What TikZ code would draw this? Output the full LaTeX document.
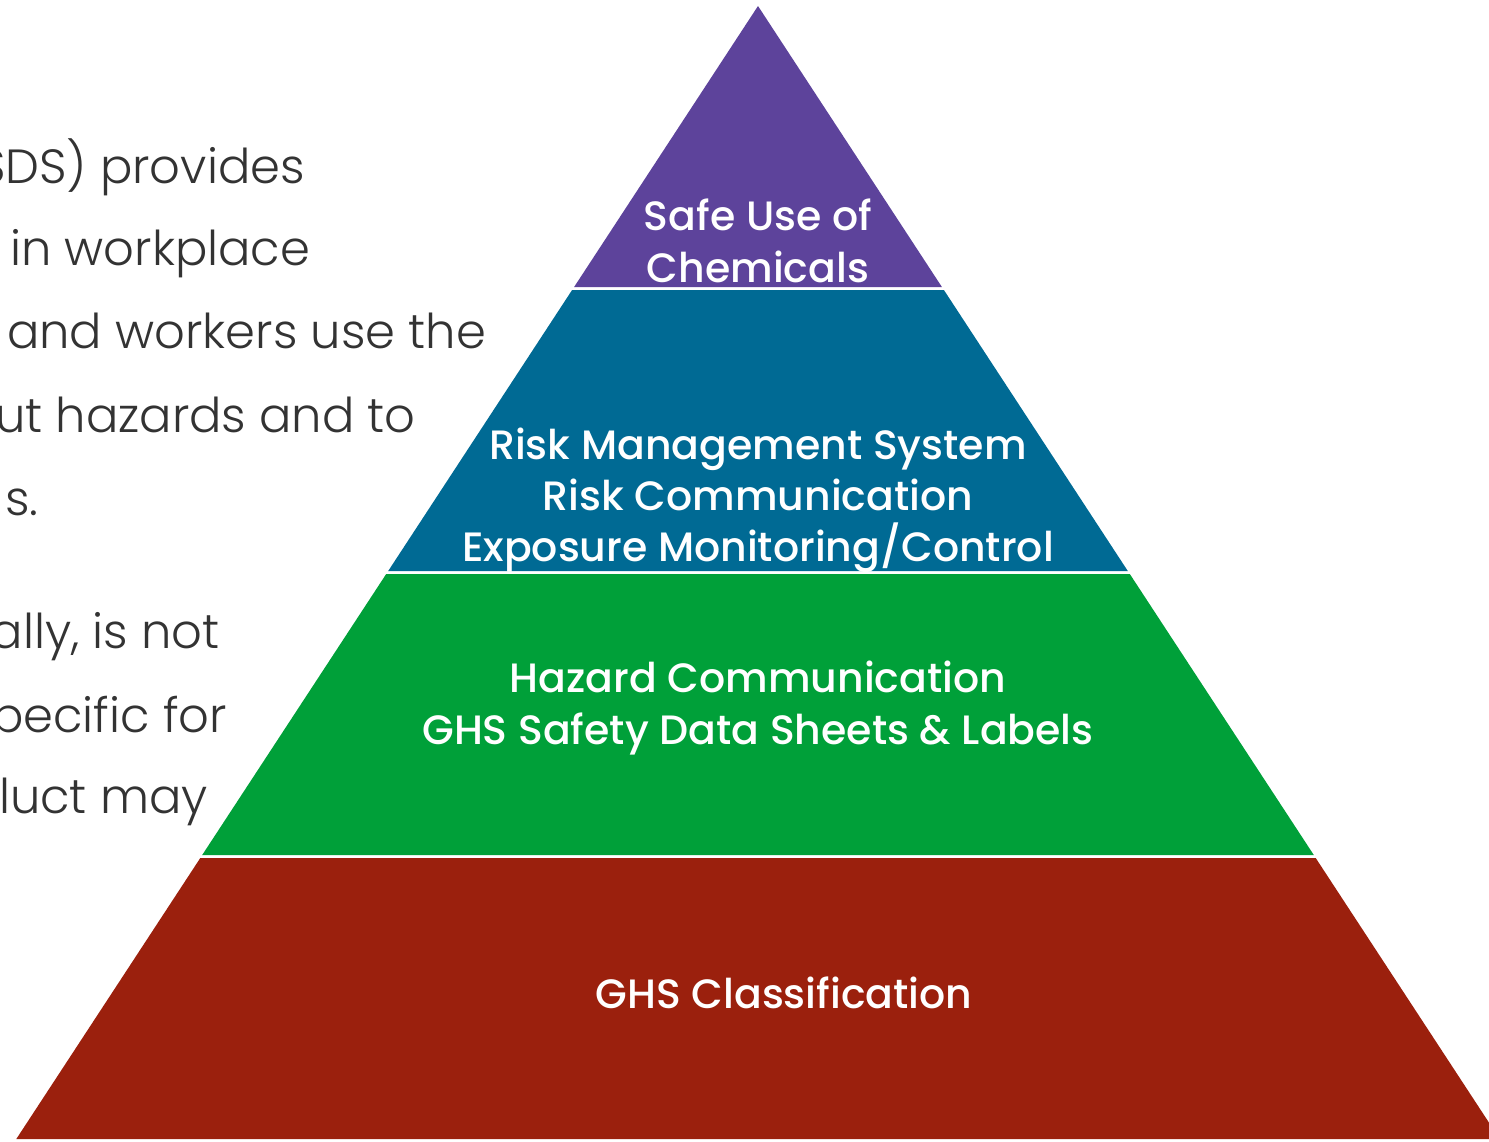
\documentclass[tikz,border=0pt]{standalone}
\usepackage{fontspec}
\setmainfont{Poppins}
\newfontfamily\bodyfont{Poppins Light}
\newfontfamily\labelfont{Poppins Medium}
\definecolor{tierpurple}{RGB}{93,67,155}
\definecolor{tierblue}{RGB}{0,106,148}
\definecolor{tiergreen}{RGB}{0,160,57}
\definecolor{tierred}{RGB}{155,32,13}
\definecolor{bodygray}{RGB}{51,51,51}
\begin{document}
\begin{tikzpicture}[x=1pt,y=-1pt,
  tierlabel/.style={text=white,font=\labelfont\fontsize{41}{51}\selectfont,anchor=base,inner sep=0pt},
  bodyline/.style={text=bodygray,font=\bodyfont\fontsize{48}{83}\selectfont,inner sep=0pt}]
\useasboundingbox (0,0) rectangle (1489,1141);
\clip (0,0) rectangle (1489,1141);
% pyramid tiers
\fill[tierpurple] (758,6) -- (941.9,287) -- (574.1,287) -- cycle;
\fill[tierblue] (572.1,290) -- (943.9,290) -- (1127.8,571) -- (388.2,571) -- cycle;
\fill[tiergreen] (386.2,574) -- (1129.8,574) -- (1313.8,855) -- (202.2,855) -- cycle;
\fill[tierred] (200.3,858) -- (1315.7,858) -- (1499.7,1139) -- (16.3,1139) -- cycle;
% tier labels
\node[tierlabel] (t1a) at (758,230) {Safe Use of};
\node[tierlabel] (t1b) at (758,282) {Chemicals};
\node[tierlabel] (t2a) at (758,459) {Risk Management System};
\node[tierlabel] (t2b) at (758,510) {Risk Communication};
\node[tierlabel] (t2c) at (758,561) {Exposure Monitoring/Control};
\node[tierlabel] (t3a) at (758,692) {Hazard Communication};
\node[tierlabel] (t3b) at (758,744) {GHS Safety Data Sheets \& Labels};
\node[tierlabel] (t4) at (784,1008) {GHS Classification};
% side text
\node[bodyline,anchor=base east] (p1) at (305,183) {SDS) provides};
\node[bodyline,anchor=base west] (p2) at (10,265) {in workplace};
\node[bodyline,anchor=base west] (p3) at (7,348) {and workers use the};
\node[bodyline,anchor=base east] (p4) at (416,432) {ut hazards and to};
\node[bodyline,anchor=base west] (p5) at (5,515) {s.};
\node[bodyline,anchor=base east] (q1) at (220,648) {ally, is not};
\node[bodyline,anchor=base east] (q2) at (227,732) {pecific for};
\node[bodyline,anchor=base west] (q3) at (-1,813) {luct may};
\end{tikzpicture}
\end{document}
